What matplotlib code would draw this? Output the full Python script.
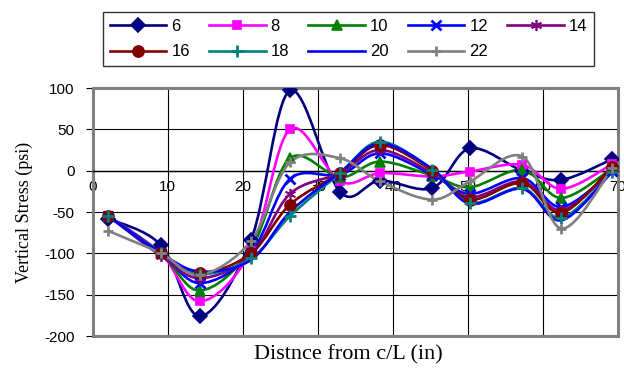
import matplotlib.pyplot as plt
from matplotlib.path import Path
from matplotlib.patches import PathPatch
from matplotlib.lines import Line2D

plt.rcParams["axes.unicode_minus"] = False

# station positions along the section (in)
x_pos = [2.1, 9.1, 14.3, 21.1, 26.3, 33.0, 38.3, 45.3, 50.3, 57.3, 62.5, 69.3]

# vertical stress (psi) for each case
s6 = [-58, -90, -176, -84, 97, -26, -12, -21, 27, 0, -11, 14]
s8 = [-55, -100, -158, -97, 50, -13, -3, -7, -1, 7, -22, 8]
s10 = [-55, -100, -145, -95, 15, -8, 11, -6, -20, 1, -33, 3]
s12 = [-55, -100, -136, -100, -10, -5, 21, -5, -28, -9, -44, 0]
s14 = [-55, -103, -130, -102, -28, -3, 25, -3, -32, -13, -48, 1]
s16 = [-55, -100, -124, -100, -41, -3, 31, 0, -35, -15, -51, 5]
s18 = [-55, -100, -125, -106, -55, -3, 35, 1, -39, -21, -57, -1]
s20 = [-55, -100, -122, -108, -50, -2, 33, 2, -40, -22, -60, -1]
s22 = [-73, -100, -126, -85, 10, 15, -13, -35, -13, 17, -70, 3]

labels = ["6", "8", "10", "12", "14", "16", "18", "20", "22"]
series = [s6, s8, s10, s12, s14, s16, s18, s20, s22]
colors = ["#000080", "#ff00ff", "#008000", "#0000ff", "#800080",
          "#800000", "#008080", "#0000ff", "#808080"]
markers = ["D", "s", "^", "x", (6, 2, 0), "o", "+", "None", "+"]
msizes = [7, 6, 7, 7, 8, 8, 9, 0, 7]


def smooth_path(xs, ys):
    # excel-like smoothed line: bezier segments with catmull-rom handles
    pts = list(zip(xs, ys))
    n = len(pts)
    verts = [pts[0]]
    codes = [Path.MOVETO]
    for i in range(n - 1):
        p0 = pts[i - 1] if i > 0 else pts[i]
        p1 = pts[i]
        p2 = pts[i + 1]
        p3 = pts[i + 2] if i + 2 < n else pts[i + 1]
        c1 = (p1[0] + (p2[0] - p0[0]) / 6, p1[1] + (p2[1] - p0[1]) / 6)
        c2 = (p2[0] - (p3[0] - p1[0]) / 6, p2[1] - (p3[1] - p1[1]) / 6)
        verts += [c1, c2, p2]
        codes += [Path.CURVE4] * 3
    return Path(verts, codes)


fig = plt.figure(figsize=(6.24, 3.69), dpi=100)
ax = fig.add_axes([0.1486, 0.0894, 0.8413, 0.6721])

handles = []
for ys, lab, c, m, ms in zip(series, labels, colors, markers, msizes):
    ax.add_patch(PathPatch(smooth_path(x_pos, ys), facecolor="none",
                           edgecolor=c, lw=1.9, zorder=3))
    ax.plot(x_pos, ys, ls="none", marker=m, ms=ms, color=c,
            mew=2 if m in ("x", "+") else 1.2, zorder=4)
    handles.append(Line2D([], [], color=c, lw=1.9, marker=m, ms=ms,
                          mew=2 if m in ("x", "+") else 1.2))

ax.set_xlim(0, 70)
ax.set_ylim(-200, 100)
ax.set_xticks(range(0, 71, 10))
ax.set_yticks(range(-200, 101, 50))
ax.grid(True, color="black", lw=0.8, zorder=0)

for side in ["top", "right", "left"]:
    ax.spines[side].set_color("#808080")
    ax.spines[side].set_linewidth(2.2)
ax.spines["bottom"].set_position(("data", 0))
ax.spines["bottom"].set_color("black")
ax.spines["bottom"].set_linewidth(1)
ax.axhline(-200, color="#808080", lw=2.2, clip_on=False, zorder=5)

ax.tick_params(axis="x", length=0, pad=7, labelsize=11)
ax.tick_params(axis="y", length=5, pad=8, labelsize=11)
for t in ax.get_xticklabels() + ax.get_yticklabels():
    t.set_fontfamily("Liberation Sans")

ax.set_ylabel("Vertical Stress (psi)", family="Liberation Serif", fontsize=13,
              labelpad=8)
fig.text(348 / 624, 1 - 355 / 369, "Distnce from c/L (in)",
         family="Liberation Serif", fontsize=16, ha="center", va="center")

order = [0, 5, 1, 6, 2, 7, 3, 8, 4]
leg = fig.legend([handles[i] for i in order], [labels[i] for i in order],
                 ncol=5, loc="upper left",
                 bbox_to_anchor=(103 / 624, 1 - 12 / 369),
                 borderaxespad=0, frameon=True, fancybox=False,
                 handlelength=3.4, handletextpad=0.3, columnspacing=1.15,
                 labelspacing=0.65, borderpad=0.4,
                 prop={"family": "Liberation Sans", "size": 12})
leg.get_frame().set_edgecolor("black")
leg.get_frame().set_linewidth(1)

fig.savefig("out.png", dpi=100)
